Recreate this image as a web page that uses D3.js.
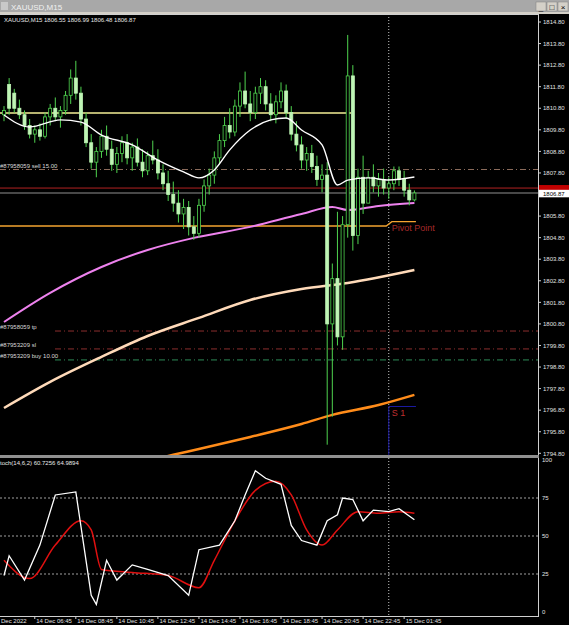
<!DOCTYPE html>
<html><head><meta charset="utf-8">
<script src="https://cdn.jsdelivr.net/npm/d3@7/dist/d3.min.js"></script>
<style>
html,body{margin:0;padding:0;background:#000;}
svg{display:block;}
text{font-family:"Liberation Sans",Arial,sans-serif;}
</style></head>
<body><svg id="c" width="569" height="625"></svg>
<script>
// ---------- DATA ----------
const symbolTitle = "XAUUSD,M15";
const headerText = "XAUUSD,M15  1806.55 1806.99 1806.48 1806.87";
const stochText = "toch(14,6,2) 60.7256 64.9894";
const open  = [1810.5,1811.9,1811.5,1810.8,1810.5,1810.0,1809.6,1809.8,1809.5,1810.4,1810.8,1810.4,1810.7,1811.4,1812.2,1811.5,1810.3,1809.2,1808.3,1808.8,1809.5,1808.9,1808.2,1808.7,1809.2,1808.5,1809.0,1808.3,1807.9,1808.6,1808.4,1807.8,1807.3,1806.8,1806.4,1805.9,1806.2,1805.3,1805.0,1806.3,1807.2,1807.7,1808.5,1809.3,1810.0,1809.7,1810.9,1811.6,1811.0,1810.6,1811.5,1811.8,1811.0,1810.5,1811.1,1811.6,1810.6,1809.6,1809.1,1808.4,1808.7,1808.1,1807.5,1807.7,1800.8,1802.9,1800.2,1805.4,1812.3,1804.9,1807.6,1806.4,1807.6,1807.2,1807.5,1807.1,1807.3,1807.9,1807.5,1807.0,1806.55];
const high  = [1810.9,1812.2,1811.7,1811.2,1810.7,1810.3,1810.0,1810.1,1810.6,1811.0,1811.3,1810.9,1811.6,1812.6,1813.0,1811.8,1810.6,1809.6,1809.0,1809.8,1810.0,1809.3,1809.0,1809.5,1809.6,1809.2,1809.4,1808.9,1808.8,1809.3,1808.9,1808.2,1807.9,1807.4,1807.0,1806.6,1806.5,1805.8,1806.6,1807.5,1808.0,1808.8,1809.6,1810.4,1810.8,1811.2,1812.0,1812.5,1811.6,1811.8,1812.2,1812.1,1811.5,1811.4,1812.0,1811.9,1810.9,1810.2,1809.5,1809.0,1809.1,1808.6,1808.2,1808.3,1803.6,1806.0,1805.8,1814.2,1812.8,1808.0,1808.6,1807.9,1808.2,1807.8,1808.0,1807.6,1808.1,1808.1,1807.9,1807.3,1806.99];
const low   = [1810.2,1810.5,1810.6,1810.3,1809.8,1809.4,1809.2,1809.3,1809.4,1810.0,1810.2,1809.9,1810.5,1811.0,1811.2,1810.0,1809.0,1808.0,1807.6,1808.5,1808.6,1807.9,1807.8,1808.3,1808.2,1807.9,1808.1,1807.6,1807.7,1808.2,1807.5,1807.0,1806.5,1806.0,1805.5,1805.2,1804.9,1804.7,1804.8,1806.0,1806.8,1807.3,1808.2,1809.0,1809.4,1809.5,1810.4,1810.8,1810.2,1810.3,1811.0,1810.7,1810.2,1810.1,1810.8,1810.3,1809.3,1808.8,1808.0,1807.9,1807.8,1807.2,1806.9,1795.2,1796.5,1799.8,1799.6,1804.8,1804.2,1804.5,1805.9,1806.4,1806.9,1806.7,1806.8,1806.6,1807.0,1807.2,1806.7,1806.3,1806.48];
const close = [1810.7,1810.8,1810.8,1810.5,1810.0,1809.6,1809.8,1809.5,1810.4,1810.8,1810.4,1810.7,1811.4,1812.2,1811.5,1810.3,1809.2,1808.3,1808.8,1809.5,1808.9,1808.2,1808.7,1809.2,1808.5,1809.0,1808.3,1807.9,1808.6,1808.4,1807.8,1807.3,1806.8,1806.4,1805.9,1806.2,1805.3,1805.0,1806.3,1807.2,1807.7,1808.5,1809.3,1810.0,1809.7,1810.9,1811.6,1811.0,1810.6,1811.5,1811.8,1811.0,1810.5,1811.1,1811.6,1810.6,1809.6,1809.1,1808.4,1808.7,1808.1,1807.5,1807.7,1800.8,1802.9,1800.2,1805.4,1812.3,1804.9,1807.6,1806.4,1807.6,1807.2,1807.5,1807.1,1807.3,1807.9,1807.5,1807.0,1806.55,1806.87];

// moving averages, read at sampled bar indices: [barIndex, price]
const maWhite  = [[0,1810.49],[5,1809.93],[11,1810.26],[15,1810.16],[19,1809.56],[25,1809.10],[30,1808.40],[35,1807.85],[38,1807.57],[41,1807.94],[44,1808.87],[48,1809.79],[52,1810.26],[55,1810.35],[58,1809.79],[62,1809.10],[65,1807.24],[67,1807.47],[71,1807.57],[75,1807.47],[80,1807.61]];
const maViolet = [[0,1800.89],[9,1802.24],[19,1803.44],[28,1804.23],[37,1804.79],[48,1805.30],[58,1805.90],[64,1806.22],[67,1806.08],[73,1806.27],[80,1806.41]];
const maPeach  = [[0,1796.90],[9,1798.11],[19,1799.27],[28,1800.24],[38,1801.08],[48,1801.91],[58,1802.42],[67,1802.70],[80,1803.30]];
const maOrange = [[28,1794.45],[33,1794.73],[38,1795.00],[48,1795.56],[58,1796.16],[64,1796.58],[73,1797.04],[80,1797.51]];

// stochastic %K and %D at sampled bar indices
const stochK = [[0,24],[1,37],[4,21],[7,44],[10,77],[14,79],[17,11],[18,5],[20,34],[22,21],[25,31],[28,28],[32,24],[36,11],[38,41],[42,44],[45,60],[47,77],[49,93],[51,88],[54,84],[56,57],[58,47],[61,44],[63,60],[65,64],[66,75],[68,74],[70,60],[72,67],[75,66],[77,68],[80,60.73]];
const stochD = [[0,34],[5,22],[10,44],[15,60],[17,54],[19,28],[25,26],[32,24],[38,16],[41,34],[45,60],[49,80],[53,86],[56,77],[59,54],[62,44],[65,54],[69,66],[73,65],[77,66],[80,64.99]];

// horizontal levels
const yellowLevel = 1810.58;
const pivotLevel = 1805.34, pivotShort = 1805.54;
const s1Level = 1796.97;
const askPrice = 1807.10, bidPrice = 1806.87;
const orderLines = [
  {label:"#87958059 sell 15.00", price:1807.96, color:"#8b6b5b"},
  {label:"#87958059 tp", price:1800.47, color:"#8b2e2e"},
  {label:"#87953209 sl", price:1799.64, color:"#8b2e2e"},
  {label:"#87953209 buy 10.00", price:1799.13, color:"#2e8b57"}
];
const priceTicks = d3.range(1794.80, 1815.0, 1.0);
const stochLevels = [25, 50, 75];
const stochTickVals = [0, 25, 50, 75, 100];
const timeLabels = ["14 Dec 06:45","14 Dec 08:45","14 Dec 10:45","14 Dec 12:45","14 Dec 14:45","14 Dec 16:45","14 Dec 18:45","14 Dec 20:45","14 Dec 22:45","15 Dec 01:45"];
const timeLabelIdx = [6,14,22,30,38,46,54,62,70,78];
const daySepIdx = 75;

// ---------- LAYOUT ----------
const W = 569, H = 625;
const plotRight = 538;
const topY = 14, sepY = 455, botY = 616;
const FS = 6;
const svg = d3.select("#c");
const x = d3.scaleLinear().domain([0, 80]).range([4, 414.4]);
const y = d3.scaleLinear().domain([1794.80, 1814.80]).range([453.3, 22]);
const ys = d3.scaleLinear().domain([0, 100]).range([612, 460]);

svg.append("rect").attr("width", W).attr("height", H).attr("fill", "#000");

svg.append("clipPath").attr("id","cp1").append("rect").attr("x",0).attr("y",topY+1).attr("width",plotRight).attr("height",sepY-topY-1);
svg.append("clipPath").attr("id","cp2").append("rect").attr("x",0).attr("y",sepY+3).attr("width",plotRight).attr("height",botY-sepY-3);

const g1 = svg.append("g").attr("clip-path","url(#cp1)");
const g2 = svg.append("g").attr("clip-path","url(#cp2)");

// day separator
[g1,g2].forEach(g => g.append("line").attr("x1",x(daySepIdx)).attr("x2",x(daySepIdx)).attr("y1",topY).attr("y2",botY)
  .attr("stroke","#c8c8c8").attr("stroke-width",1).attr("stroke-dasharray","1,2"));

// yellow level
g1.append("line").attr("x1",0).attr("x2",351).attr("y1",y(yellowLevel)).attr("y2",y(yellowLevel)).attr("stroke","#f5ef96").attr("stroke-width",1.5);

// order lines
orderLines.forEach((o,i) => {
  g1.append("line").attr("x1", i===0?0:55).attr("x2",plotRight).attr("y1",y(o.price)).attr("y2",y(o.price))
    .attr("stroke",o.color).attr("stroke-width",1).attr("stroke-dasharray","6,3,1,3");
  g1.append("text").attr("x",0).attr("y",y(o.price)-2).attr("fill","#d8d8d8").attr("font-size",FS).text(o.label);
});

// ask/bid lines
g1.append("line").attr("x1",0).attr("x2",plotRight).attr("y1",y(askPrice)).attr("y2",y(askPrice)).attr("stroke","#b22222").attr("stroke-width",1);
g1.append("line").attr("x1",0).attr("x2",plotRight).attr("y1",y(bidPrice)).attr("y2",y(bidPrice)).attr("stroke","#909090").attr("stroke-width",1);

// pivot
g1.append("path").attr("d", `M0,${y(pivotLevel)}H${x(74.5)}L${x(75.6)},${y(pivotShort)}H${x(80.3)}`)
  .attr("fill","none").attr("stroke","#f4a430").attr("stroke-width",1.3);
g1.append("text").attr("x",x(75)+3).attr("y",y(pivotLevel)+5).attr("fill","#a52a2a").attr("font-size",9).text("Pivot Point");

// S1
g1.append("path").attr("d", `M${x(80.3)},${y(s1Level)}H${x(75)}V${sepY}`).attr("fill","none").attr("stroke","#1a1aa0").attr("stroke-width",1);
g1.append("text").attr("x",x(75)+3).attr("y",y(s1Level)+9).attr("fill","#c03030").attr("font-size",9).text("S 1");

// MAs
const lineP = d3.line().x(d=>x(d[0])).y(d=>y(d[1])).curve(d3.curveMonotoneX);
g1.append("path").datum(maOrange).attr("d",lineP).attr("fill","none").attr("stroke","#ff8c1a").attr("stroke-width",2.5);
g1.append("path").datum(maPeach).attr("d",lineP).attr("fill","none").attr("stroke","#ffdab9").attr("stroke-width",2.5);
g1.append("path").datum(maViolet).attr("d",lineP).attr("fill","none").attr("stroke","#ee82ee").attr("stroke-width",2);

// candles (bull = black body, bear = light body, MT4 style)
const bars = d3.range(open.length).map(i => ({i, o:open[i], h:high[i], l:low[i], c:close[i]}));
const cg = g1.append("g");
cg.selectAll("line.w").data(bars).join("line").attr("class","w")
  .attr("x1",d=>x(d.i)).attr("x2",d=>x(d.i)).attr("y1",d=>y(d.h)).attr("y2",d=>y(d.l))
  .attr("stroke","#4fd34f").attr("stroke-width",1);
cg.selectAll("rect").data(bars).join("rect")
  .attr("x",d=>x(d.i)-1.5).attr("width",3)
  .attr("y",d=>y(Math.max(d.o,d.c))).attr("height",d=>Math.max(1,Math.abs(y(d.o)-y(d.c))))
  .attr("fill",d=>d.c>=d.o?"#000":"#bff5b5").attr("stroke",d=>d.c>=d.o?"#4fd34f":"#bff5b5").attr("stroke-width",0.8);

g1.append("path").datum(maWhite).attr("d",lineP).attr("fill","none").attr("stroke","#ffffff").attr("stroke-width",1.4);

// stoch levels
stochLevels.forEach(v => g2.append("line").attr("x1",0).attr("x2",plotRight).attr("y1",ys(v)).attr("y2",ys(v))
  .attr("stroke","#a0a0a0").attr("stroke-width",1).attr("stroke-dasharray","2,2"));
g2.append("path").datum(stochD).attr("d",d3.line().x(d=>x(d[0])).y(d=>ys(d[1])).curve(d3.curveMonotoneX)).attr("fill","none").attr("stroke","#e01010").attr("stroke-width",1.5);
g2.append("path").datum(stochK).attr("d",d3.line().x(d=>x(d[0])).y(d=>ys(d[1]))).attr("fill","none").attr("stroke","#ffffff").attr("stroke-width",1.3);

// frames
svg.append("line").attr("x1",0).attr("x2",plotRight).attr("y1",topY+0.5).attr("y2",topY+0.5).attr("stroke","#d0d0d0");
svg.append("line").attr("x1",plotRight+0.5).attr("x2",plotRight+0.5).attr("y1",topY).attr("y2",botY).attr("stroke","#d0d0d0");
svg.append("rect").attr("x",0).attr("y",sepY).attr("width",plotRight+1).attr("height",3).attr("fill","#909090");
svg.append("line").attr("x1",0).attr("x2",plotRight+1).attr("y1",botY+0.5).attr("y2",botY+0.5).attr("stroke","#d0d0d0");

// price axis
const pa = svg.append("g");
priceTicks.forEach(p => {
  pa.append("line").attr("x1",plotRight).attr("x2",plotRight+3).attr("y1",y(p)).attr("y2",y(p)).attr("stroke","#d0d0d0");
  if (Math.abs(p-1806.80) > 0.01)
    pa.append("text").attr("x",plotRight+5).attr("y",y(p)+2.2).attr("fill","#e0e0e0").attr("font-size",FS).text(p.toFixed(2));
});
// current price labels (ask box partly hidden behind bid box)
pa.append("rect").attr("x",plotRight+1).attr("y",y(askPrice)-3).attr("width",30).attr("height",5).attr("fill","#c00000");
pa.append("rect").attr("x",plotRight+1).attr("y",y(bidPrice)-3.2).attr("width",30).attr("height",7.5).attr("fill","#fff");
pa.append("text").attr("x",plotRight+5).attr("y",y(bidPrice)+2.6).attr("fill","#000").attr("font-size",FS).text(bidPrice.toFixed(2));

// stoch axis
stochTickVals.forEach(v => {
  svg.append("text").attr("x",plotRight+4).attr("y",ys(v)+2.2).attr("fill","#e0e0e0").attr("font-size",FS).text(v);
});

// time axis
svg.append("text").attr("x",1).attr("y",623).attr("fill","#e0e0e0").attr("font-size",FS).text("Dec 2022");
timeLabels.forEach((t,k) => {
  const xx = x(timeLabelIdx[k]);
  svg.append("line").attr("x1",xx).attr("x2",xx).attr("y1",botY).attr("y2",botY+3).attr("stroke","#d0d0d0");
  svg.append("text").attr("x",xx+1.5).attr("y",623).attr("fill","#e0e0e0").attr("font-size",FS).text(t);
});

// header texts
svg.append("text").attr("x",4).attr("y",22).attr("fill","#e8e8e8").attr("font-size",FS).text(headerText);
svg.append("text").attr("x",0).attr("y",465).attr("fill","#e8e8e8").attr("font-size",FS).text(stochText);

// title bar
const tb = svg.append("g");
tb.append("rect").attr("x",0).attr("y",0).attr("width",W).attr("height",13).attr("fill","#a8a8a8");
tb.append("rect").attr("x",0).attr("y",12).attr("width",W).attr("height",2).attr("fill","#d4d0c8");
tb.append("rect").attr("x",1).attr("y",2).attr("width",7).attr("height",8).attr("fill","#c8c8c8");
tb.append("text").attr("x",11).attr("y",9.5).attr("fill","#f0f0f0").attr("font-size",8).text(symbolTitle);
["_","□","×"].forEach((s,k) => {
  tb.append("rect").attr("x",536+k*11).attr("y",2).attr("width",10).attr("height",9).attr("fill","#d4d0c8").attr("stroke","#808080").attr("stroke-width",0.5);
  tb.append("text").attr("x",541+k*11).attr("y",9.5).attr("text-anchor","middle").attr("fill","#000").attr("font-size",8).text(s);
});
</script></body></html>
